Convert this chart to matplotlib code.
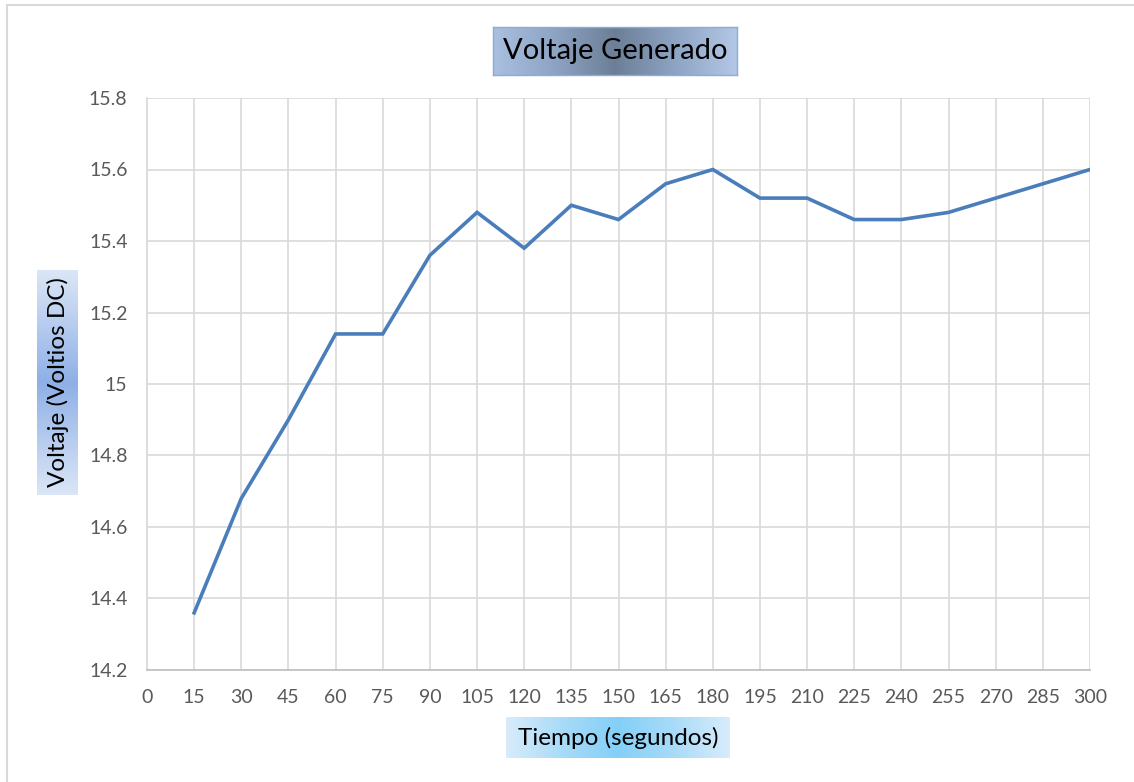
import numpy as np
import matplotlib
matplotlib.use("Agg")
import matplotlib.pyplot as plt
from matplotlib.colors import LinearSegmentedColormap
from matplotlib.lines import Line2D

plt.rcParams['font.family'] = ['Lato', 'DejaVu Sans']

# Data
tiempo = [15, 30, 45, 60, 75, 90, 105, 120, 135, 150,
          165, 180, 195, 210, 225, 240, 255, 270, 285, 300]
voltaje = [14.36, 14.68, 14.90, 15.14, 15.14, 15.36, 15.48, 15.38, 15.50, 15.46,
           15.56, 15.60, 15.52, 15.52, 15.46, 15.46, 15.48, 15.52, 15.56, 15.60]
x_ticks = list(range(0, 301, 15))
y_ticks = [14.2, 14.4, 14.6, 14.8, 15.0, 15.2, 15.4, 15.6, 15.8]
y_tick_labels = ['14.2', '14.4', '14.6', '14.8', '15', '15.2', '15.4', '15.6', '15.8']

W, H = 1134, 782
fig = plt.figure(figsize=(W / 100, H / 100), dpi=100)

def fx(px):
    return px / W

def fy(py):
    return 1 - py / H

ax = fig.add_axes([fx(147), fy(670), fx(1090) - fx(147), fy(98) - fy(670)])
ax.plot(tiempo, voltaje, color='#4a7ebb', lw=2.6, solid_joinstyle='miter', zorder=3)
ax.set_xlim(0, 300)
ax.set_ylim(14.2, 15.8)
ax.set_xticks(x_ticks)
ax.set_yticks(y_ticks)
ax.set_yticklabels(y_tick_labels)
ax.grid(True, color='#d9d9d9', lw=1.2)
ax.tick_params(length=0, labelsize=14, labelcolor='#595959', pad=14)
for s in ['top', 'right']:
    ax.spines[s].set_visible(False)
ax.spines['left'].set_color('#d9d9d9')
ax.spines['left'].set_linewidth(1.2)
ax.spines['bottom'].set_color('#bfbfbf')
ax.spines['bottom'].set_linewidth(1.2)


def gradient_box(x0, y0, x1, y1, colors, text, size, vertical=False, rotation=0):
    bax = fig.add_axes([fx(x0), fy(y1), fx(x1) - fx(x0), fy(y0) - fy(y1)])
    cmap = LinearSegmentedColormap.from_list('g', colors)
    grad = np.linspace(0, 1, 256)
    img = grad[:, None] if vertical else grad[None, :]
    bax.imshow(img, cmap=cmap, aspect='auto', extent=[0, 1, 0, 1])
    bax.set_xlim(0, 1)
    bax.set_ylim(0, 1)
    bax.set_xticks([])
    bax.set_yticks([])
    for s in bax.spines.values():
        s.set_visible(False)
    bax.text(0.5, 0.5, text, ha='center', va='center', fontsize=size,
             rotation=rotation, color='black')
    return bax


# Title box
tb = gradient_box(493, 27, 737, 75,
                  ['#a9c0e0', '#8ea4c4', '#6c7f97', '#8ea4c4', '#b3c8e6'],
                  'Voltaje Generado', 21)
for s in tb.spines.values():
    s.set_visible(True)
    s.set_color('#8eaad6')
    s.set_linewidth(1.0)

# Y-axis label box
gradient_box(37, 270, 78, 495,
             ['#dbe6f6', '#b5cbef', '#8eb0e6', '#b5cbef', '#dbe6f6'],
             'Voltaje (Voltios DC)', 17.5, vertical=True, rotation=90)

# X-axis label box
gradient_box(506, 717, 730, 758,
             ['#d8ecfb', '#a8dbf8', '#84cff7', '#a8dbf8', '#d8ecfb'],
             'Tiempo (segundos)', 17.5)

# Chart frame edges
fig.add_artist(Line2D([fx(7), fx(7)], [fy(5), 0], color='#d9d9d9', lw=1.5,
                      transform=fig.transFigure))
fig.add_artist(Line2D([fx(7), 1], [fy(5), fy(5)], color='#d9d9d9', lw=1.5,
                      transform=fig.transFigure))

fig.savefig('out.png', dpi=100, facecolor='white')
